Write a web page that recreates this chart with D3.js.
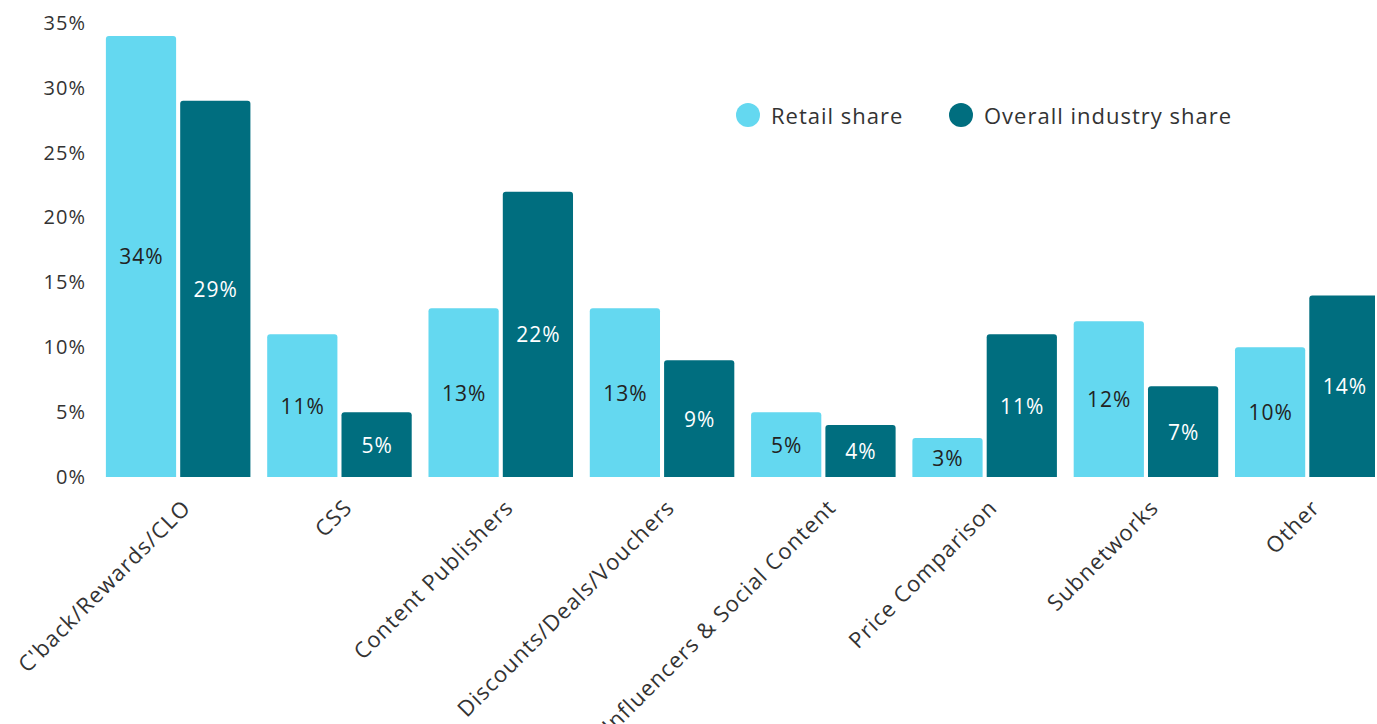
<!DOCTYPE html>
<html>
<head>
<meta charset="utf-8">
<script src="https://cdn.jsdelivr.net/npm/d3@7"></script>
<style>
  html, body { margin: 0; padding: 0; background: #fff; }
  svg text { font-family: "Open Sans", "Noto Sans", sans-serif; }
</style>
</head>
<body>
<svg id="chart" width="1377" height="724"></svg>
<script>
// Affiliate publisher categories and their shares (percent)
const categories = [
  "C'back/Rewards/CLO", "CSS", "Content Publishers", "Discounts/Deals/Vouchers",
  "Influencers & Social Content", "Price Comparison", "Subnetworks", "Other"
];
const seriesNames = ["Retail share", "Overall industry share"];
const retailShare = [34, 11, 13, 13, 5, 3, 12, 10];
const overallShare = [29, 5, 22, 9, 4, 11, 7, 14];
const yTicks = [0, 5, 10, 15, 20, 25, 30, 35];

const colors = { "Retail share": "#64d8f0", "Overall industry share": "#006e7f" };
const labelColors = { "Retail share": "#222", "Overall industry share": "#fff" };

const W = 1377, H = 724;
const svg = d3.select("#chart");

const x0 = d3.scaleBand()
  .domain(categories)
  .range([97.5, 97.5 + 161.3 * categories.length])
  .paddingInner(0.104)
  .paddingOuter(0.052);

const x1 = d3.scaleBand()
  .domain(seriesNames)
  .range([0, x0.bandwidth()])
  .paddingInner(0.055);

const y = d3.scaleLinear().domain([0, 35]).range([477, 23]);

const rows = categories.map((c, i) => ({
  category: c,
  values: [
    { series: seriesNames[0], value: retailShare[i] },
    { series: seriesNames[1], value: overallShare[i] }
  ]
}));

svg.append("clipPath").attr("id", "plotClip")
  .append("rect").attr("x", 0).attr("y", 0).attr("width", 1375).attr("height", H);

// Y axis: labels only
const yAxis = d3.axisLeft(y).tickValues(yTicks).tickFormat(d => d + "%").tickSize(0).tickPadding(0);
const yG = svg.append("g").attr("transform", "translate(86,0)").call(yAxis);
yG.select(".domain").remove();
yG.selectAll("text")
  .attr("fill", "#333")
  .style("font-size", "20px")
  .style("letter-spacing", "1px");

// Bars with slightly rounded tops
function topRoundedRect(x, yTop, w, h, r) {
  r = Math.min(r, h, w / 2);
  return `M${x},${yTop + h}V${yTop + r}Q${x},${yTop} ${x + r},${yTop}` +
         `H${x + w - r}Q${x + w},${yTop} ${x + w},${yTop + r}V${yTop + h}Z`;
}

const plot = svg.append("g").attr("clip-path", "url(#plotClip)");
const groups = plot.selectAll("g.group").data(rows).join("g")
  .attr("class", "group")
  .attr("transform", d => `translate(${x0(d.category)},0)`);

groups.selectAll("path.bar").data(d => d.values).join("path")
  .attr("class", "bar")
  .attr("fill", d => colors[d.series])
  .attr("d", d => topRoundedRect(x1(d.series), y(d.value), x1.bandwidth(), y(0) - y(d.value), 3));

groups.selectAll("text.val").data(d => d.values).join("text")
  .attr("class", "val")
  .attr("x", d => x1(d.series) + x1.bandwidth() / 2 + 0.5)
  .attr("y", d => (y(d.value) + y(0)) / 2)
  .attr("text-anchor", "middle")
  .attr("dominant-baseline", "central")
  .attr("fill", d => labelColors[d.series])
  .style("font-size", "21px")
  .style("letter-spacing", "1px")
  .text(d => d.value + "%");

// X axis: rotated category labels
const xAxis = d3.axisBottom(x0).tickSize(0).tickPadding(0);
const xG = svg.append("g").attr("transform", "translate(0,477)").call(xAxis);
xG.select(".domain").remove();
xG.selectAll("text")
  .attr("fill", "#333")
  .style("font-size", "22px")
  .style("letter-spacing", "1.1px")
  .attr("text-anchor", "end")
  .attr("dy", 0)
  .attr("transform", "translate(14,32) rotate(-45)");

// Legend
const legend = svg.append("g").attr("transform", "translate(748,115)");
const legendX = [0, 213];
seriesNames.forEach((s, i) => {
  const g = legend.append("g").attr("transform", `translate(${legendX[i]},0)`);
  g.append("circle").attr("r", 12).attr("fill", colors[s]);
  g.append("text").attr("x", 23).attr("dominant-baseline", "central")
    .attr("fill", "#333").style("font-size", "22px").style("letter-spacing", "1px").text(s);
});
</script>
</body>
</html>
